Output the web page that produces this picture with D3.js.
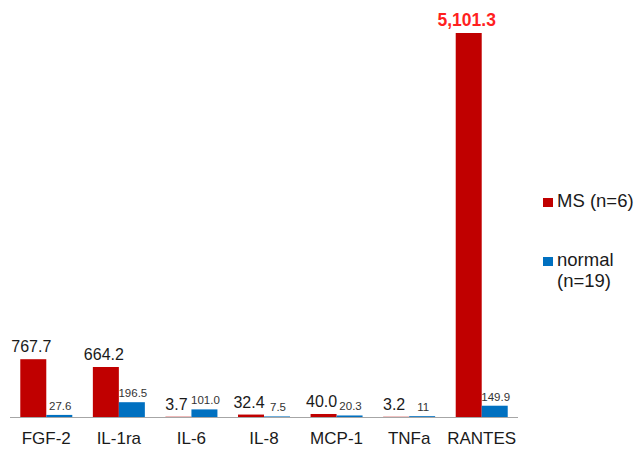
<!DOCTYPE html>
<html>
<head>
<meta charset="utf-8">
<script src="https://cdnjs.cloudflare.com/ajax/libs/d3/7.8.5/d3.min.js"></script>
<style>
  body{margin:0;background:#fff;}
  svg{font-family:"Liberation Sans",Arial,sans-serif;}
</style>
</head>
<body>
<svg id="chart" width="637" height="449"></svg>
<script>
var categories = ["FGF-2","IL-1ra","IL-6","IL-8","MCP-1","TNFa","RANTES"];
var msValues = [767.7, 664.2, 3.7, 32.4, 40.0, 3.2, 5101.3];
var normalValues = [27.6, 196.5, 101.0, 7.5, 20.3, 11, 149.9];
var msLabels = ["767.7","664.2","3.7","32.4","40.0","3.2","5,101.3"];
var normalLabels = ["27.6","196.5","101.0","7.5","20.3","11","149.9"];
var seriesNames = ["MS (n=6)", "normal\n(n=19)"];

var colors = {ms:"#C00000", normal:"#0070C0"};
var svg = d3.select("#chart");

var baseY = 417;
var x = d3.scaleBand().domain(categories).range([10, 518]);
var inner = d3.scaleBand().domain(["ms","normal"]).range([0, 52]);
var y = d3.scaleLinear().domain([0, d3.max(msValues)]).range([baseY, 33]);

var rows = categories.map(function(c,i){
  return {cat:c, bars:[
    {key:"ms", v:msValues[i], label:msLabels[i]},
    {key:"normal", v:normalValues[i], label:normalLabels[i]}
  ]};
});

var groups = svg.selectAll(".cat").data(rows).enter().append("g")
  .attr("class","cat")
  .attr("transform", function(d){ return "translate(" + (x(d.cat) + x.bandwidth()/2 - 26) + ",0)"; });

groups.selectAll("rect").data(function(d){ return d.bars; }).enter().append("rect")
  .attr("x", function(d){ return inner(d.key); })
  .attr("width", inner.bandwidth())
  .attr("y", function(d){ return y(d.v); })
  .attr("height", function(d){ return baseY - y(d.v); })
  .attr("fill", function(d){ return colors[d.key]; });

groups.selectAll("text.val").data(function(d){ return d.bars; }).enter().append("text")
  .attr("class","val")
  .attr("x", function(d){ return inner(d.key) + inner.bandwidth()/2 + (d.key=="ms" ? -2 : 1); })
  .attr("y", function(d){ return y(d.v) - (d.key=="ms" ? 7 : 5); })
  .attr("text-anchor","middle")
  .attr("font-size", function(d){ return d.key=="ms" ? (d.v > 5000 ? 17.5 : 16) : 11.5; })
  .attr("font-weight", function(d){ return d.v > 5000 ? "bold" : "normal"; })
  .attr("fill", function(d){ return d.v > 5000 ? "#FF1F1F" : (d.key=="ms" ? "#1a1a1a" : "#333"); })
  .text(function(d){ return d.label; });

// axis line
svg.append("line")
  .attr("x1", 10).attr("x2", 518)
  .attr("y1", baseY + 0.5).attr("y2", baseY + 0.5)
  .attr("stroke", "#a6a6a6").attr("stroke-width", 1);

svg.selectAll("text.cat").data(categories).enter().append("text")
  .attr("class","cat")
  .attr("x", function(d){ return x(d) + x.bandwidth()/2; })
  .attr("y", 444)
  .attr("text-anchor","middle")
  .attr("font-size", 17)
  .attr("fill", "#1a1a1a")
  .text(function(d){ return d; });

// legend
var legend = svg.append("g");
var legendY = [207, 266];
["ms","normal"].forEach(function(k,i){
  legend.append("rect")
    .attr("x", 543).attr("y", legendY[i] - 9)
    .attr("width", 10).attr("height", 9)
    .attr("fill", colors[k]);
  var t = legend.append("text")
    .attr("x", 557).attr("y", legendY[i])
    .attr("font-size", 18.5).attr("fill", "#1a1a1a");
  seriesNames[i].split("\n").forEach(function(line,j){
    t.append("tspan").attr("x", 557).attr("dy", j==0 ? 0 : 21).text(line);
  });
});
</script>
</body>
</html>
